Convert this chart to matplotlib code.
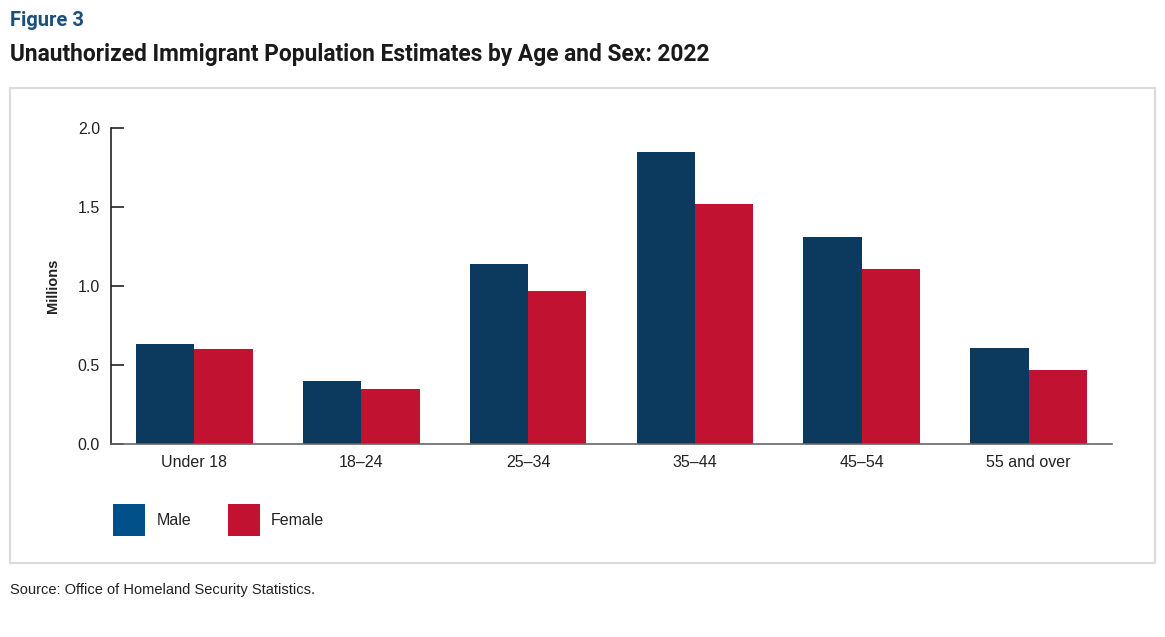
import matplotlib
matplotlib.use("Agg")
import matplotlib.pyplot as plt
from matplotlib.patches import Patch, Rectangle
import numpy as np
from matplotlib import font_manager

categories = ["Under 18", "18\u201324", "25\u201334", "35\u201344", "45\u201354", "55 and over"]
male = [0.63, 0.40, 1.14, 1.85, 1.31, 0.61]
female = [0.60, 0.35, 0.97, 1.52, 1.11, 0.47]
yticks = [0.0, 0.5, 1.0, 1.5, 2.0]

names = {f.name for f in font_manager.fontManager.ttflist}
title_font = "Liberation Sans Narrow" if "Liberation Sans Narrow" in names else "Roboto"
body_font = "Liberation Sans"

plt.rcParams['font.family'] = [body_font, 'DejaVu Sans']

MALE_BAR = "#0b3a5e"
MALE_LEG = "#02508a"
FEMALE = "#c21231"
TXT = "#222222"

fig = plt.figure(figsize=(11.65, 6.37), dpi=100)

# frame box
fig.patches.append(Rectangle((10/1165, 1-563/637), 1145/1165, 475/637,
                             transform=fig.transFigure, fill=False,
                             edgecolor="#dcdcdc", linewidth=1.6))

ax = fig.add_axes([111/1165, 1-444/637, 1001/1165, 316/637])
x = np.arange(len(categories))
w = 0.35
ax.bar(x - w/2, male, width=w, color=MALE_BAR, label="Male")
ax.bar(x + w/2, female, width=w, color=FEMALE, label="Female")

ax.set_xlim(-0.5, len(categories) - 0.5)
ax.set_ylim(0, 2.0)
ax.set_yticks(yticks)
ax.set_yticklabels([f"{v:.1f}" for v in yticks])
ax.set_xticks(x)
ax.set_xticklabels(categories)
for s in ["top", "right"]:
    ax.spines[s].set_visible(False)
ax.spines["left"].set_color("#222222")
ax.spines["left"].set_linewidth(1.2)
ax.spines["bottom"].set_color("#666666")
ax.spines["bottom"].set_linewidth(1.2)
ax.tick_params(axis="y", direction="in", length=9, width=1.2, color="#222222",
               labelsize=11.5, labelcolor=TXT, pad=8)
ax.tick_params(axis="x", length=0, labelsize=11.5, labelcolor=TXT, pad=8)
ax.set_ylabel("Millions", fontsize=10.5, fontweight="bold", color=TXT, labelpad=13)

handles = [Patch(facecolor=MALE_LEG, label="Male"), Patch(facecolor=FEMALE, label="Female")]
fig.legend(handles=handles, loc="upper left", bbox_to_anchor=(99/1165, 1-490/637),
           ncol=2, frameon=False, fontsize=11.5, handlelength=2.0, handleheight=2.7,
           handletextpad=0.7, columnspacing=2.3, labelcolor=TXT)

fig.text(10/1165, 1-20/637, "Figure 3", fontsize=14.5, fontweight="bold",
         color="#1b4f7c", family=[title_font, "DejaVu Sans"], va="center", ha="left")
fig.text(10/1165, 1-54/637, "Unauthorized Immigrant Population Estimates by Age and Sex: 2022",
         fontsize=16.4, fontweight="bold", color="#1a1a1a",
         family=[title_font, "DejaVu Sans"], va="center", ha="left")
fig.text(10/1165, 1-590/637, "Source: Office of Homeland Security Statistics.",
         fontsize=10.5, color=TXT, va="center", ha="left")

fig.savefig("out.png", dpi=100)
